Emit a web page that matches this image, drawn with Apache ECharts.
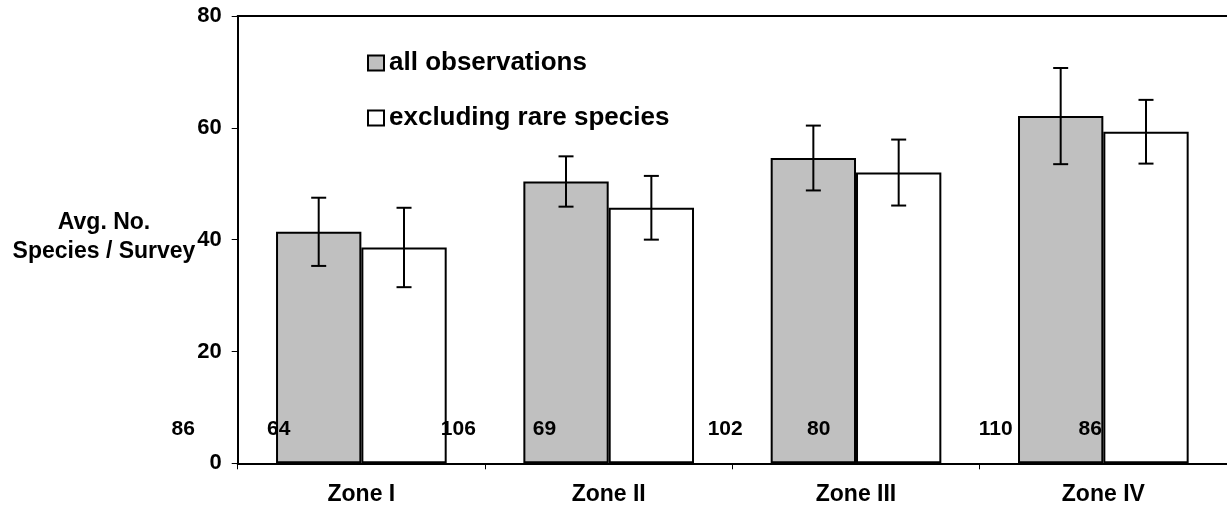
<!DOCTYPE html>
<html>
<head>
<meta charset="utf-8">
<script src="https://cdn.jsdelivr.net/npm/echarts@6/dist/echarts.min.js"></script>
<style>html,body{margin:0;padding:0;background:#fff;}#chart{width:1227px;height:508px;}</style>
</head>
<body>
<div id="chart"></div>
<script>
const categories = ['Zone I', 'Zone II', 'Zone III', 'Zone IV'];
const seriesNames = ['all observations', 'excluding rare species'];
const allObs = [41.4, 50.4, 54.6, 62.1];
const allObsErr = [6.1, 4.5, 5.8, 8.6];
const exclRare = [38.6, 45.7, 52.0, 59.3];
const exclRareErr = [7.1, 5.7, 5.9, 5.7];
const countLabels = [86, 64, 106, 69, 102, 80, 110, 86];
const countLabelX = [-0.22, 0.166, 0.892, 1.240, 1.971, 2.349, 3.065, 3.447];
const countLabelY = 6.15;
const yTitle = 'Avg. No.\nSpecies / Survey';

const FONT = '"Liberation Sans", Arial, sans-serif';
const CAT_GAP = 0.31;

function errData(vals, errs) {
  return vals.map((v, i) => [i, v - errs[i], v + errs[i]]);
}
function errRenderer(side) {
  return function (params, api) {
    const i = api.value(0);
    const lo = api.coord([i, api.value(1)]);
    const hi = api.coord([i, api.value(2)]);
    const band = api.size([1, 0])[0];
    const bw = band * (1 - CAT_GAP) / 2;
    const cx = lo[0] + side * bw / 2;
    const cap = 7.5;
    const st = { stroke: '#000', lineWidth: 2 };
    return {
      type: 'group',
      children: [
        { type: 'line', shape: { x1: cx, y1: hi[1], x2: cx, y2: lo[1] }, style: st },
        { type: 'line', shape: { x1: cx - cap, y1: hi[1], x2: cx + cap, y2: hi[1] }, style: st },
        { type: 'line', shape: { x1: cx - cap, y1: lo[1], x2: cx + cap, y2: lo[1] }, style: st }
      ]
    };
  };
}
function countRenderer(params, api) {
  const p = api.coord([api.value(0), api.value(1)]);
  return {
    type: 'text',
    x: p[0],
    y: p[1],
    style: {
      text: String(api.value(2)),
      fontFamily: FONT,
      fontWeight: 'bold',
      fontSize: 21,
      fill: '#000',
      align: 'center',
      verticalAlign: 'middle'
    }
  };
}

const chart = echarts.init(document.getElementById('chart'), null, { renderer: 'canvas' });
chart.setOption({
  animation: false,
  backgroundColor: '#fff',
  textStyle: { fontFamily: FONT },
  grid: { left: 237.7, right: -5.5, top: 16, bottom: 44.7, containLabel: false },
  legend: {
    orient: 'vertical',
    left: 362,
    top: 45,
    itemWidth: 16,
    itemHeight: 15,
    itemGap: 29,
    icon: 'rect',
    data: seriesNames,
    textStyle: { fontFamily: FONT, fontWeight: 'bold', fontSize: 26, color: '#000', lineHeight: 26 }
  },
  graphic: [{
    type: 'text',
    x: 104,
    y: 208,
    style: {
      text: yTitle,
      fontFamily: FONT,
      fontWeight: 'bold',
      fontSize: 23,
      lineHeight: 29,
      fill: '#000',
      align: 'center',
      verticalAlign: 'top'
    }
  }],
  xAxis: [{
    type: 'category',
    data: categories,
    position: 'bottom',
    axisLine: { show: true, lineStyle: { color: '#000', width: 2 } },
    axisTick: { show: true, length: 6, lineStyle: { color: '#000', width: 1 } },
    axisLabel: { margin: 20, fontFamily: FONT, fontWeight: 'bold', fontSize: 23, color: '#000' },
    splitLine: { show: false }
  }, {
    type: 'value',
    position: 'top',
    min: 0,
    max: 4,
    axisLine: { show: true, lineStyle: { color: '#000', width: 2 } },
    axisTick: { show: false },
    axisLabel: { show: false },
    splitLine: { show: false }
  }],
  yAxis: {
    type: 'value',
    min: 0,
    max: 80,
    interval: 20,
    axisLine: { show: true, lineStyle: { color: '#000', width: 2 } },
    axisTick: { show: true, length: 6, lineStyle: { color: '#000', width: 1 } },
    axisLabel: { margin: 16, fontFamily: FONT, fontWeight: 'bold', fontSize: 22, color: '#000' },
    splitLine: { show: false }
  },
  series: [{
    name: seriesNames[0],
    type: 'bar',
    data: allObs,
    barGap: '0%',
    barCategoryGap: (CAT_GAP * 100) + '%',
    itemStyle: { color: '#c0c0c0', borderColor: '#000', borderWidth: 2 },
    z: 2
  }, {
    name: seriesNames[1],
    type: 'bar',
    data: exclRare,
    barGap: '0%',
    barCategoryGap: (CAT_GAP * 100) + '%',
    itemStyle: { color: '#ffffff', borderColor: '#000', borderWidth: 2 },
    z: 2
  }, {
    type: 'custom',
    renderItem: errRenderer(-1),
    data: errData(allObs, allObsErr),
    encode: { x: 0, y: [1, 2] },
    z: 5,
    silent: true
  }, {
    type: 'custom',
    renderItem: errRenderer(1),
    data: errData(exclRare, exclRareErr),
    encode: { x: 0, y: [1, 2] },
    z: 5,
    silent: true
  }, {
    type: 'custom',
    xAxisIndex: 1,
    clip: false,
    renderItem: countRenderer,
    data: countLabels.map((n, i) => [countLabelX[i], countLabelY, n]),
    encode: { x: 0, y: 1 },
    z: 6,
    silent: true
  }]
});
</script>
</body>
</html>
